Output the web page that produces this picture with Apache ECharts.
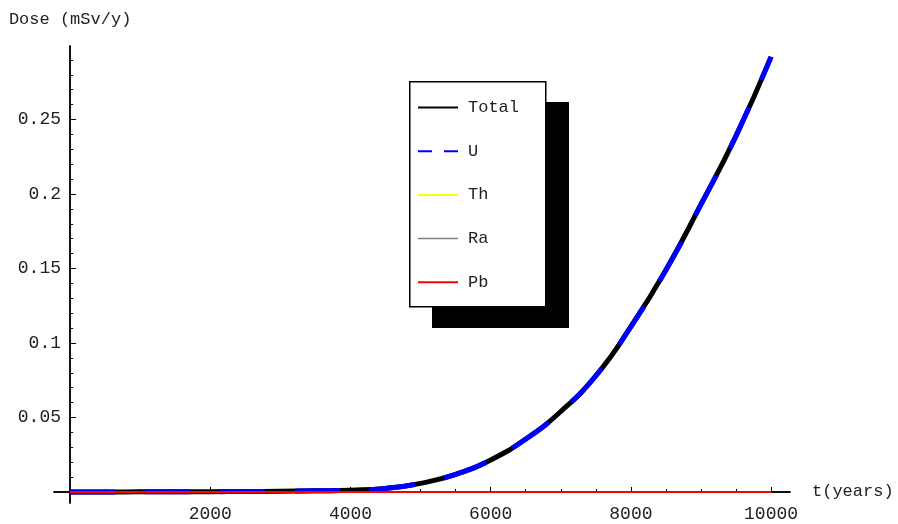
<!DOCTYPE html>
<html>
<head>
<meta charset="utf-8">
<script src="https://cdn.jsdelivr.net/npm/echarts@6/dist/echarts.min.js"></script>
<style>
  html, body { margin: 0; background: #fff; }
  #chart { width: 898px; height: 524px; }
</style>
</head>
<body>
<div id="chart"></div>
<script>
// --- data ---
var years = [0, 500, 1000, 1500, 2000, 2500, 3000, 3500, 4000, 4500, 5000,
             5500, 6000, 6500, 7000, 7500, 8000, 8500, 9000, 9500, 10000];
var total = [0, 0.0000, 0.0001, 0.0001, 0.0002, 0.0003, 0.0005, 0.0008, 0.0012, 0.0024, 0.0058,
             0.0118, 0.0215, 0.0355, 0.054, 0.078, 0.111, 0.149, 0.193, 0.239, 0.292];
var u     = [0, 0.0000, 0.0001, 0.0001, 0.0002, 0.0003, 0.0005, 0.0008, 0.0012, 0.0024, 0.0058,
             0.0118, 0.0215, 0.0355, 0.054, 0.078, 0.111, 0.149, 0.193, 0.239, 0.292];
var th    = [0, 0, 0, 0, 0, 0, 0, 0, 0, 0, 0, 0, 0, 0, 0, 0, 0, 0, 0, 0, 0];
var ra    = [0, 0, 0, 0, 0, 0, 0, 0, 0, 0, 0, 0, 0, 0, 0, 0, 0, 0, 0, 0, 0];
var pb    = [0, 0, 0, 0, 0, 0, 0, 0, 0, 0, 0, 0, 0, 0, 0, 0, 0, 0, 0, 0, 0];

var xMajor = [2000, 4000, 6000, 8000, 10000];
var xMinor = [500, 1000, 1500, 2500, 3000, 3500, 4500, 5000, 5500, 6500, 7000, 7500,
              8500, 9000, 9500];
var yMajor = [0.05, 0.1, 0.15, 0.2, 0.25];
var yMinor = [0.01, 0.02, 0.03, 0.04, 0.06, 0.07, 0.08, 0.09, 0.11, 0.12, 0.13, 0.14,
              0.16, 0.17, 0.18, 0.19, 0.21, 0.22, 0.23, 0.24, 0.26, 0.27, 0.28, 0.29];

function pairs(vals) {
  return years.map(function(x, i) { return [x, vals[i]]; });
}

var mono = '"Liberation Mono", "DejaVu Sans Mono", monospace';
var ink = '#222';

var chart = echarts.init(document.getElementById('chart'), null, { renderer: 'canvas' });

function xAxisBase(ticks, len, showLabel) {
  return {
    type: 'value',
    min: -230,
    max: 10270,
    position: 'bottom',
    axisLine: { onZero: true, onZeroAxisIndex: 0, lineStyle: { color: '#000', width: 1.5 } },
    axisTick: { inside: true, length: len, customValues: ticks, lineStyle: { color: '#000', width: 1 } },
    axisLabel: {
      show: showLabel, customValues: ticks, margin: 2, color: ink, fontFamily: mono, fontSize: 18,
      formatter: function(v) { return String(v); }
    },
    splitLine: { show: false }
  };
}

function yAxisBase(ticks, len, showLabel) {
  return {
    type: 'value',
    min: -0.0074,
    max: 0.2993,
    position: 'left',
    axisLine: { onZero: true, onZeroAxisIndex: 0, lineStyle: { color: '#000', width: 1.5 } },
    axisTick: { inside: true, length: len, customValues: ticks, lineStyle: { color: '#000', width: 1 } },
    axisLabel: {
      show: showLabel, customValues: ticks, margin: -7, color: ink, fontFamily: mono, fontSize: 18,
      formatter: function(v) { return String(v); }
    },
    splitLine: { show: false }
  };
}

var xMain = xAxisBase(xMajor, 5, true);
xMain.name = 't(years)';
xMain.nameLocation = 'end';
xMain.nameGap = 22;
xMain.nameTextStyle = { color: ink, fontFamily: mono, fontSize: 17 };

var yMain = yAxisBase(yMajor, 6, true);
yMain.name = 'Dose (mSv/y)';
yMain.nameLocation = 'end';
yMain.nameGap = 18;
yMain.nameTextStyle = { color: ink, fontFamily: mono, fontSize: 17 };

function lineSeries(name, vals, color, width, type, z) {
  return {
    name: name,
    type: 'line',
    data: pairs(vals),
    symbol: 'none',
    showSymbol: false,
    smooth: true,
    itemStyle: { color: color },
    lineStyle: { color: color, width: width, type: type || 'solid' },
    z: z
  };
}

chart.setOption({
  animation: false,
  backgroundColor: '#fff',
  grid: { left: 54, right: 108, top: 46, bottom: 21, containLabel: false },
  xAxis: [xMain, xAxisBase(xMinor, 3, false)],
  yAxis: [yMain, yAxisBase(yMinor, 3, false)],
  // legend frame with its offset black shadow
  graphic: [
    { type: 'rect', left: 432, top: 102, z: 3, silent: true,
      shape: { width: 137, height: 226 }, style: { fill: '#000' } },
    { type: 'rect', left: 409, top: 81, z: 3, silent: true,
      shape: { width: 136, height: 225 }, style: { fill: '#fff', stroke: '#000', lineWidth: 1.5 } }
  ],
  legend: {
    orient: 'vertical',
    left: 409,
    top: 81,
    z: 5,
    padding: [18, 22, 16, 8],
    itemGap: 26.7,
    itemWidth: 40,
    itemHeight: 14,
    itemStyle: { color: 'transparent', borderWidth: 0 },
    textStyle: { color: ink, fontFamily: mono, fontSize: 17, padding: [0, 0, 0, 5] },
    data: [
      { name: 'Total', lineStyle: { color: '#000', width: 2 } },
      { name: 'U', lineStyle: { color: '#0000ff', width: 2, type: [14, 12] } },
      { name: 'Th', lineStyle: { color: '#ffff00', width: 2 } },
      { name: 'Ra', lineStyle: { color: '#808080', width: 1.5 } },
      { name: 'Pb', lineStyle: { color: '#ff0000', width: 2 } }
    ]
  },
  series: [
    lineSeries('Total', total, '#000', 5, 'solid', 2),
    lineSeries('U', u, '#0000ff', 5, [45, 30], 3),
    lineSeries('Th', th, '#ffff00', 2, 'solid', 4),
    lineSeries('Ra', ra, '#808080', 1.5, 'solid', 5),
    lineSeries('Pb', pb, '#ff0000', 2, 'solid', 6)
  ]
});
window.addEventListener('resize', function() { chart.resize(); });
</script>
</body>
</html>
